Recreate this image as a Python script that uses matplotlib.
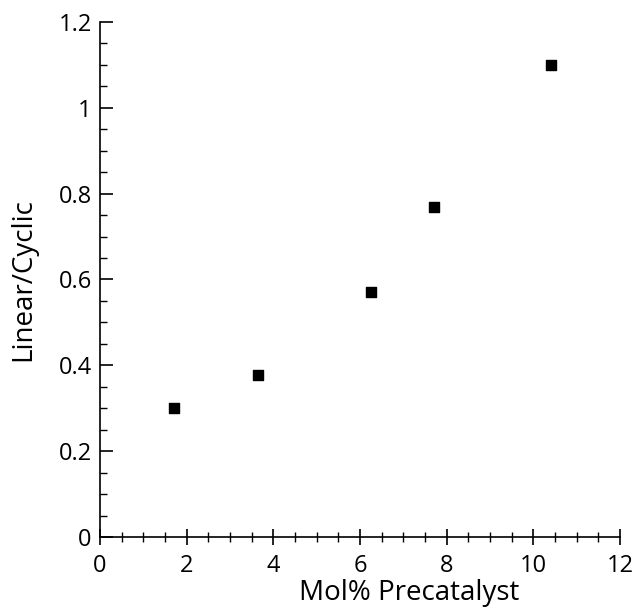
import matplotlib.pyplot as plt
from matplotlib.ticker import MultipleLocator, FuncFormatter

mol_pct = [1.7, 3.65, 6.25, 7.7, 10.4]
lin_cyc = [0.30, 0.377, 0.571, 0.769, 1.10]

plt.rcParams["font.family"] = ["Open Sans", "DejaVu Sans"]

fig = plt.figure(figsize=(6.35, 6.08), dpi=100)
ax = fig.add_axes([0.1575, 0.1168, 0.819, 0.847])

ax.scatter(mol_pct, lin_cyc, marker="s", s=45, color="black", zorder=3)

ax.set_xlim(0, 12)
ax.set_ylim(0, 1.2)
ax.spines["top"].set_visible(False)
ax.spines["right"].set_visible(False)
for s in ("left", "bottom"):
    ax.spines[s].set_linewidth(1.2)

ax.xaxis.set_major_locator(MultipleLocator(2))
ax.xaxis.set_minor_locator(MultipleLocator(0.5))
ax.yaxis.set_major_locator(MultipleLocator(0.2))
ax.yaxis.set_minor_locator(MultipleLocator(0.05))

fmt = FuncFormatter(lambda v, p: ("%g" % round(v, 2)))
ax.xaxis.set_major_formatter(fmt)
ax.yaxis.set_major_formatter(fmt)

ax.tick_params(axis="x", which="major", direction="inout", length=12, width=1.2, labelsize=17, pad=6)
ax.tick_params(axis="x", which="minor", direction="inout", length=7, width=1.0)
ax.tick_params(axis="y", which="major", direction="in", length=9, width=1.2, labelsize=17, pad=6)
ax.tick_params(axis="y", which="minor", direction="in", length=5, width=1.0)

ax.set_xlabel("Mol% Precatalyst", fontsize=20)
ax.set_ylabel("Linear/Cyclic", fontsize=20)
ax.xaxis.set_label_coords(0.594, -0.082)
ax.yaxis.set_label_coords(-0.12, 0.5)

fig.savefig("out.png", dpi=100)
